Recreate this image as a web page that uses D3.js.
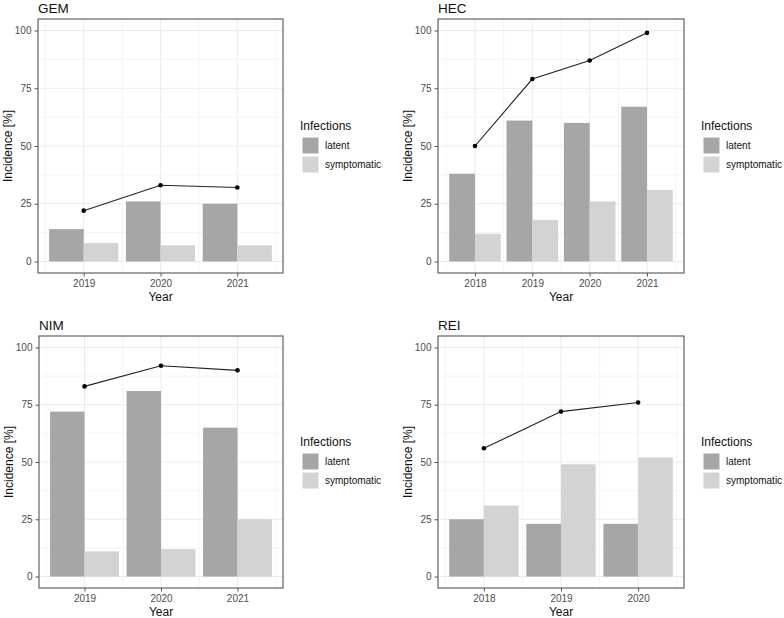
<!DOCTYPE html>
<html>
<head>
<meta charset="utf-8">
<script src="https://cdn.jsdelivr.net/npm/d3@7"></script>
<style>
  html, body { margin: 0; padding: 0; background: #fff; }
  svg { display: block; font-family: "Liberation Sans", Arial, sans-serif; }
</style>
</head>
<body>
<svg id="chart" width="784" height="618"></svg>
<script>
// ---- data ----
const seriesNames = ["latent", "symptomatic"];
const yTicks = [0, 25, 50, 75, 100];

const gemYears = [2019, 2020, 2021];
const gemLatent = [14, 26, 25];
const gemSymptomatic = [8, 7, 7];
const gemTotal = [22, 33, 32];

const hecYears = [2018, 2019, 2020, 2021];
const hecLatent = [38, 61, 60, 67];
const hecSymptomatic = [12, 18, 26, 31];
const hecTotal = [50, 79, 87, 99];

const nimYears = [2019, 2020, 2021];
const nimLatent = [72, 81, 65];
const nimSymptomatic = [11, 12, 25];
const nimTotal = [83, 92, 90];

const reiYears = [2018, 2019, 2020];
const reiLatent = [25, 23, 23];
const reiSymptomatic = [31, 49, 52];
const reiTotal = [56, 72, 76];

// ---- layout ----
const panels = [
  { title: "GEM", years: gemYears, latent: gemLatent, symp: gemSymptomatic, total: gemTotal, left: 38, right: 283, top: 19, bottom: 273 },
  { title: "HEC", years: hecYears, latent: hecLatent, symp: hecSymptomatic, total: hecTotal, left: 438, right: 684, top: 19, bottom: 273 },
  { title: "NIM", years: nimYears, latent: nimLatent, symp: nimSymptomatic, total: nimTotal, left: 39, right: 283, top: 336, bottom: 588 },
  { title: "REI", years: reiYears, latent: reiLatent, symp: reiSymptomatic, total: reiTotal, left: 438, right: 684, top: 336, bottom: 588 }
];

const fillColor = d3.scaleOrdinal().domain(seriesNames).range(["#a6a6a6", "#d3d3d3"]);
const svg = d3.select("#chart");

panels.forEach(p => {
  const g = svg.append("g");
  const lo = d3.min(p.years) - 0.45, hi = d3.max(p.years) + 0.45;
  const pad = 0.05 * (hi - lo);
  const x = d3.scaleLinear().domain([lo - pad, hi + pad]).range([p.left, p.right]);
  const y = d3.scaleLinear().domain([-5, 105]).range([p.bottom, p.top]);

  // background
  g.append("rect").attr("x", p.left).attr("y", p.top)
    .attr("width", p.right - p.left).attr("height", p.bottom - p.top).attr("fill", "#fff");

  // minor grid
  const minorY = d3.range(0, 4).map(i => 12.5 + 25 * i);
  g.selectAll(".minY").data(minorY).enter().append("line")
    .attr("x1", p.left).attr("x2", p.right)
    .attr("y1", d => y(d)).attr("y2", d => y(d))
    .attr("stroke", "#f1f1f1").attr("stroke-width", 0.7);
  const minorX = p.years.map(v => v - 0.5).concat([d3.max(p.years) + 0.5])
    .filter(v => v > x.domain()[0] && v < x.domain()[1]);
  g.selectAll(".minX").data(minorX).enter().append("line")
    .attr("y1", p.top).attr("y2", p.bottom)
    .attr("x1", d => x(d)).attr("x2", d => x(d))
    .attr("stroke", "#f1f1f1").attr("stroke-width", 0.7);
  // major grid
  g.selectAll(".majY").data(yTicks).enter().append("line")
    .attr("x1", p.left).attr("x2", p.right)
    .attr("y1", d => y(d)).attr("y2", d => y(d))
    .attr("stroke", "#ebebeb").attr("stroke-width", 1);
  g.selectAll(".majX").data(p.years).enter().append("line")
    .attr("y1", p.top).attr("y2", p.bottom)
    .attr("x1", d => x(d)).attr("x2", d => x(d))
    .attr("stroke", "#ebebeb").attr("stroke-width", 1);

  // bars
  const rows = p.years.map((yr, i) => ({ yr, latent: p.latent[i], symp: p.symp[i] }));
  g.selectAll(".barL").data(rows).enter().append("rect")
    .attr("x", d => x(d.yr - 0.45)).attr("width", d => x(d.yr) - x(d.yr - 0.45))
    .attr("y", d => y(d.latent)).attr("height", d => y(0) - y(d.latent))
    .attr("fill", fillColor("latent"));
  g.selectAll(".barS").data(rows).enter().append("rect")
    .attr("x", d => x(d.yr)).attr("width", d => x(d.yr + 0.45) - x(d.yr))
    .attr("y", d => y(d.symp)).attr("height", d => y(0) - y(d.symp))
    .attr("fill", fillColor("symptomatic"));

  // line + points
  const pts = p.years.map((yr, i) => [yr, p.total[i]]);
  g.append("path").datum(pts)
    .attr("d", d3.line().x(d => x(d[0])).y(d => y(d[1])))
    .attr("fill", "none").attr("stroke", "#222").attr("stroke-width", 1.1);
  g.selectAll(".pt").data(pts).enter().append("circle")
    .attr("cx", d => x(d[0])).attr("cy", d => y(d[1])).attr("r", 2.3).attr("fill", "#000");

  // border
  g.append("rect").attr("x", p.left).attr("y", p.top)
    .attr("width", p.right - p.left).attr("height", p.bottom - p.top)
    .attr("fill", "none").attr("stroke", "#555").attr("stroke-width", 1.1);

  // axes
  const yAxis = d3.axisLeft(y).tickValues(yTicks).tickSize(3.5).tickPadding(3).tickFormat(d3.format("d"));
  const ya = g.append("g").attr("transform", `translate(${p.left},0)`).call(yAxis);
  const xAxis = d3.axisBottom(x).tickValues(p.years).tickSize(3.5).tickPadding(3).tickFormat(d3.format("d"));
  const xa = g.append("g").attr("transform", `translate(0,${p.bottom})`).call(xAxis);
  [ya, xa].forEach(a => {
    a.select(".domain").remove();
    a.selectAll(".tick line").attr("stroke", "#555");
    a.selectAll(".tick text").attr("fill", "#4d4d4d").style("font-size", "10px")
      .style("font-family", "Liberation Sans, Arial, sans-serif");
  });

  // titles
  g.append("text").attr("x", p.left).attr("y", p.top - 6.5)
    .text(p.title).style("font-size", "13.5px").attr("fill", "#111");
  g.append("text").attr("x", (p.left + p.right) / 2).attr("y", p.bottom + 24)
    .attr("text-anchor", "middle").attr("dominant-baseline", "central")
    .text("Year").style("font-size", "12px").attr("fill", "#111");
  const mid = (p.top + p.bottom) / 2;
  g.append("text")
    .attr("transform", `translate(${p.left - 30},${mid}) rotate(-90)`)
    .attr("text-anchor", "middle").attr("dominant-baseline", "central")
    .text("Incidence [%]").style("font-size", "12px").attr("fill", "#111");

  // legend
  const lx = p.right + 17;
  g.append("text").attr("x", lx).attr("y", mid - 20).attr("dominant-baseline", "central")
    .text("Infections").style("font-size", "12px").attr("fill", "#111");
  seriesNames.forEach((s, i) => {
    const ky = mid - 9 + i * 19;
    g.append("rect").attr("x", lx + 2).attr("y", ky).attr("width", 17).attr("height", 17)
      .attr("fill", fillColor(s)).attr("stroke", "#fff").attr("stroke-width", 1);
    g.append("text").attr("x", lx + 25).attr("y", ky + 8.5).attr("dominant-baseline", "central")
      .text(s).style("font-size", "10px").attr("fill", "#111");
  });
});
</script>
</body>
</html>
